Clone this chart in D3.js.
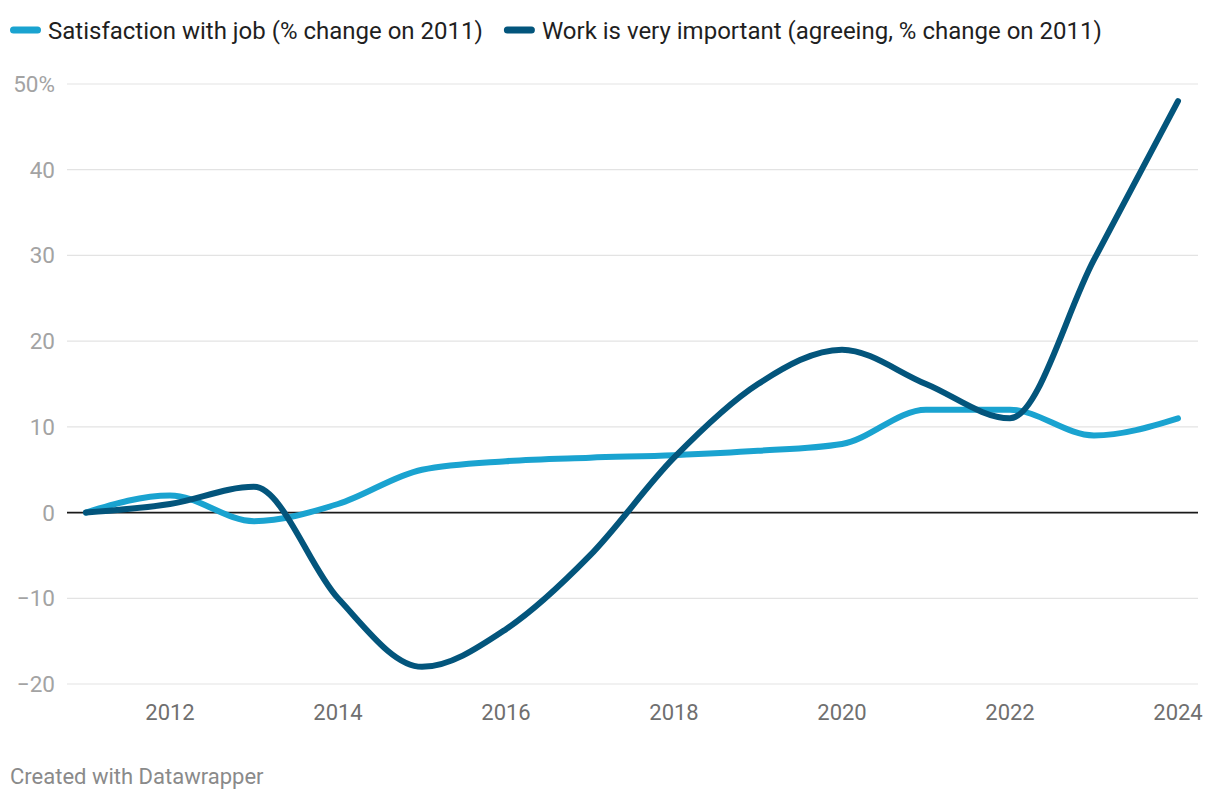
<!DOCTYPE html>
<html>
<head>
<meta charset="utf-8">
<script src="https://cdn.jsdelivr.net/npm/d3@7"></script>
<style>
  html, body { margin: 0; padding: 0; background: #fff; }
  svg { display: block; font-family: Roboto, "Noto Sans", sans-serif; }
</style>
</head>
<body>
<svg id="chart" width="1220" height="800"></svg>
<script>
const years = [2011, 2012, 2013, 2014, 2015, 2016, 2017, 2018, 2019, 2020, 2021, 2022, 2023, 2024];
const satisfaction = [0, 2, -1, 1, 5, 6, 6.4, 6.7, 7.2, 8, 12, 12, 9, 11];
const workImportant = [0, 1, 3, -10, -18, -13.6, -5, 6.4, 15, 19, 15, 11, 29.5, 48];
const seriesNames = ["Satisfaction with job (% change on 2011)", "Work is very important (agreeing, % change on 2011)"];
const seriesColors = ["#1aa3d0", "#03557c"];
const yTicks = [-20, -10, 0, 10, 20, 30, 40, 50];
const xTicks = [2012, 2014, 2016, 2018, 2020, 2022, 2024];

const svg = d3.select("#chart");
const x = d3.scaleLinear().domain([2011, 2024]).range([86, 1178]);
const y = d3.scaleLinear().domain([-20, 50]).range([684, 84]);

// gridlines
svg.append("g").selectAll("line").data(yTicks.filter(d => d !== 0)).join("line")
  .attr("x1", 67).attr("x2", 1198)
  .attr("y1", d => y(d)).attr("y2", d => y(d))
  .attr("stroke", "#e3e3e3").attr("stroke-width", 1.2);

// y labels
svg.append("g").selectAll("text").data(yTicks).join("text")
  .attr("x", 55).attr("y", d => y(d) + 8)
  .attr("text-anchor", "end")
  .attr("fill", "#a3a3a3").attr("font-size", 22.5)
  .text(d => d === 50 ? "50%" : (d < 0 ? "\u2212" + Math.abs(d) : d));

// x labels
svg.append("g").selectAll("text").data(xTicks).join("text")
  .attr("x", d => x(d)).attr("y", 720)
  .attr("text-anchor", "middle")
  .attr("fill", "#6f6f6f").attr("font-size", 22)
  .text(d => d);

// zero line
svg.append("line").attr("x1", 67).attr("x2", 1198)
  .attr("y1", y(0)).attr("y2", y(0))
  .attr("stroke", "#1a1a1a").attr("stroke-width", 1.8);

const line = d3.line().x((d, i) => x(years[i])).y(d => y(d)).curve(d3.curveMonotoneX);

[satisfaction, workImportant].forEach((vals, k) => {
  svg.append("path").attr("d", line(vals))
    .attr("fill", "none").attr("stroke", seriesColors[k])
    .attr("stroke-width", 6).attr("stroke-linecap", "round").attr("stroke-linejoin", "round");
});

// legend
const legend = svg.append("g");
let lx = 10;
seriesNames.forEach((name, k) => {
  legend.append("line").attr("x1", lx + 3.5).attr("x2", lx + 27.5).attr("y1", 30).attr("y2", 30)
    .attr("stroke", seriesColors[k]).attr("stroke-width", 7).attr("stroke-linecap", "round");
  const t = legend.append("text").attr("x", lx + 38).attr("y", 38.5)
    .attr("fill", "#1f1f1f").attr("font-size", 24).text(name);
  lx += 38 + t.node().getComputedTextLength() + 21;
});

// footer
svg.append("text").attr("x", 10).attr("y", 784)
  .attr("fill", "#8a8a8a").attr("font-size", 22).text("Created with Datawrapper");
</script>
</body>
</html>
